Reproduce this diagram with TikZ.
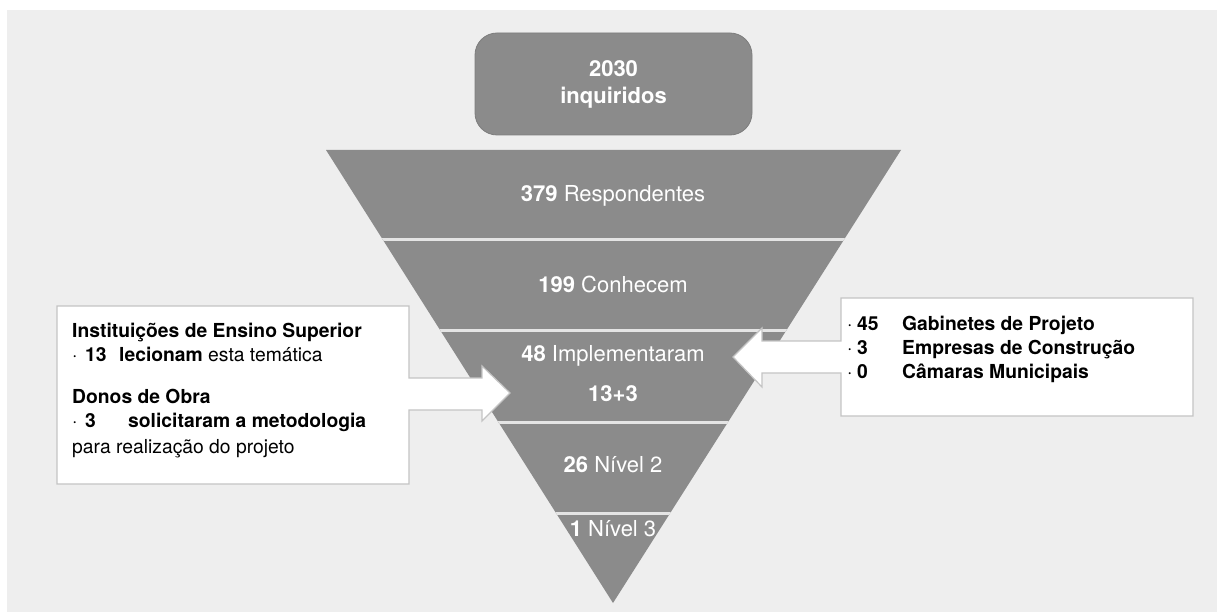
\documentclass[tikz,border=0pt]{standalone}
\usepackage{fontspec}
\setmainfont{TeX Gyre Heros}
\definecolor{pagegray}{HTML}{EEEEEE}
\definecolor{funnelgray}{HTML}{8B8B8B}
\definecolor{edgegray}{HTML}{C4C4C4}
\definecolor{sepgray}{HTML}{E4E4E4}
\tikzset{
  bandtext/.style={anchor=base, inner sep=0pt, text=white,
    font=\fontsize{22}{27}\selectfont},
  boxtext/.style={anchor=base west, inner sep=0pt, text=black,
    font=\fontsize{19.3}{24}\selectfont},
  callout/.style={fill=white, draw=edgegray, line width=1.2pt, line join=miter},
  separator/.style={draw=sepgray, line width=3pt},
  topbox/.style={fill=funnelgray, draw=funnelgray!90!black, line width=0.8pt,
    rounded corners=22pt, minimum width=277pt, minimum height=102pt,
    align=center, text=white, font=\fontsize{22}{27}\selectfont\bfseries}
}
\newcommand{\dotcol}[1]{\makebox[#1][l]{·}}
\newcommand{\numcol}[2]{\makebox[#1][l]{\bfseries #2}}
\begin{document}
\begin{tikzpicture}[x=1pt,y=-1pt]
  % page and background panel
  \fill[white] (0,0) rectangle (1217,612);
  \fill[pagegray] (7,10) rectangle (1217,612);
  \useasboundingbox (0,0) rectangle (1217,612);

  % total surveyed
  \node[topbox] (total) at (613.5,84) {2030\\inquiridos};

  % inverted funnel with its bands
  \coordinate (ftl) at (326,150);
  \coordinate (ftr) at (901,150);
  \coordinate (fap) at (613,603);
  \fill[funnelgray] (ftl) -- (ftr) -- (fap) -- cycle;
  \begin{scope}
    \clip (ftl) -- (ftr) -- (fap) -- cycle;
    \draw[separator] (300,240) -- (930,240);
    \draw[separator] (300,330) -- (930,330);
    \draw[separator] (300,422) -- (930,422);
    \draw[separator] (300,513) -- (930,513);
  \end{scope}

  % left callout with arrow into the funnel
  \draw[callout] (57,306) -- (409,306) -- (409,378) -- (482,378) -- (482,366)
    -- (510,393) -- (482,421) -- (482,410) -- (409,410) -- (409,484)
    -- (57,484) -- cycle;
  % right callout with arrow into the funnel
  \draw[callout] (1193,298) -- (1193,416) -- (841,416) -- (841,373) -- (762,373)
    -- (762,387) -- (733,357) -- (762,328) -- (762,341) -- (841,341)
    -- (841,298) -- cycle;

  % band labels
  \node[bandtext] (resp) at (613,202) {\textbf{379} Respondentes};
  \node[bandtext] (conh) at (613,292) {\textbf{199} Conhecem};
  \node[bandtext] (impl) at (613,361) {\textbf{48} Implementaram};
  \node[bandtext] (split) at (613,401) {\textbf{13+3}};
  \node[bandtext] (niv2) at (613,472) {\textbf{26} Nível 2};
  \node[bandtext] (niv3) at (613,536) {\textbf{1} Nível 3};

  % left callout text
  \node[boxtext] (ies) at (72,337) {\textbf{Instituições de Ensino Superior}};
  \node[boxtext] (iesn) at (72,361)
    {\dotcol{13pt}\numcol{34pt}{13}\textbf{lecionam} esta temática};
  \node[boxtext] (donos) at (72,403) {\textbf{Donos de Obra}};
  \node[boxtext] (donosn) at (72,427)
    {\dotcol{13pt}\numcol{43pt}{3}\textbf{solicitaram a metodologia}};
  \node[boxtext] (donosr) at (72,453) {para realização do projeto};

  % right callout text
  \node[boxtext] (gab) at (847,330)
    {\dotcol{10pt}\numcol{45pt}{45}\textbf{Gabinetes de Projeto}};
  \node[boxtext] (emp) at (847,354)
    {\dotcol{10pt}\numcol{45pt}{3}\textbf{Empresas de Construção}};
  \node[boxtext] (cam) at (847,378)
    {\dotcol{10pt}\numcol{45pt}{0}\textbf{Câmaras Municipais}};
\end{tikzpicture}
\end{document}
